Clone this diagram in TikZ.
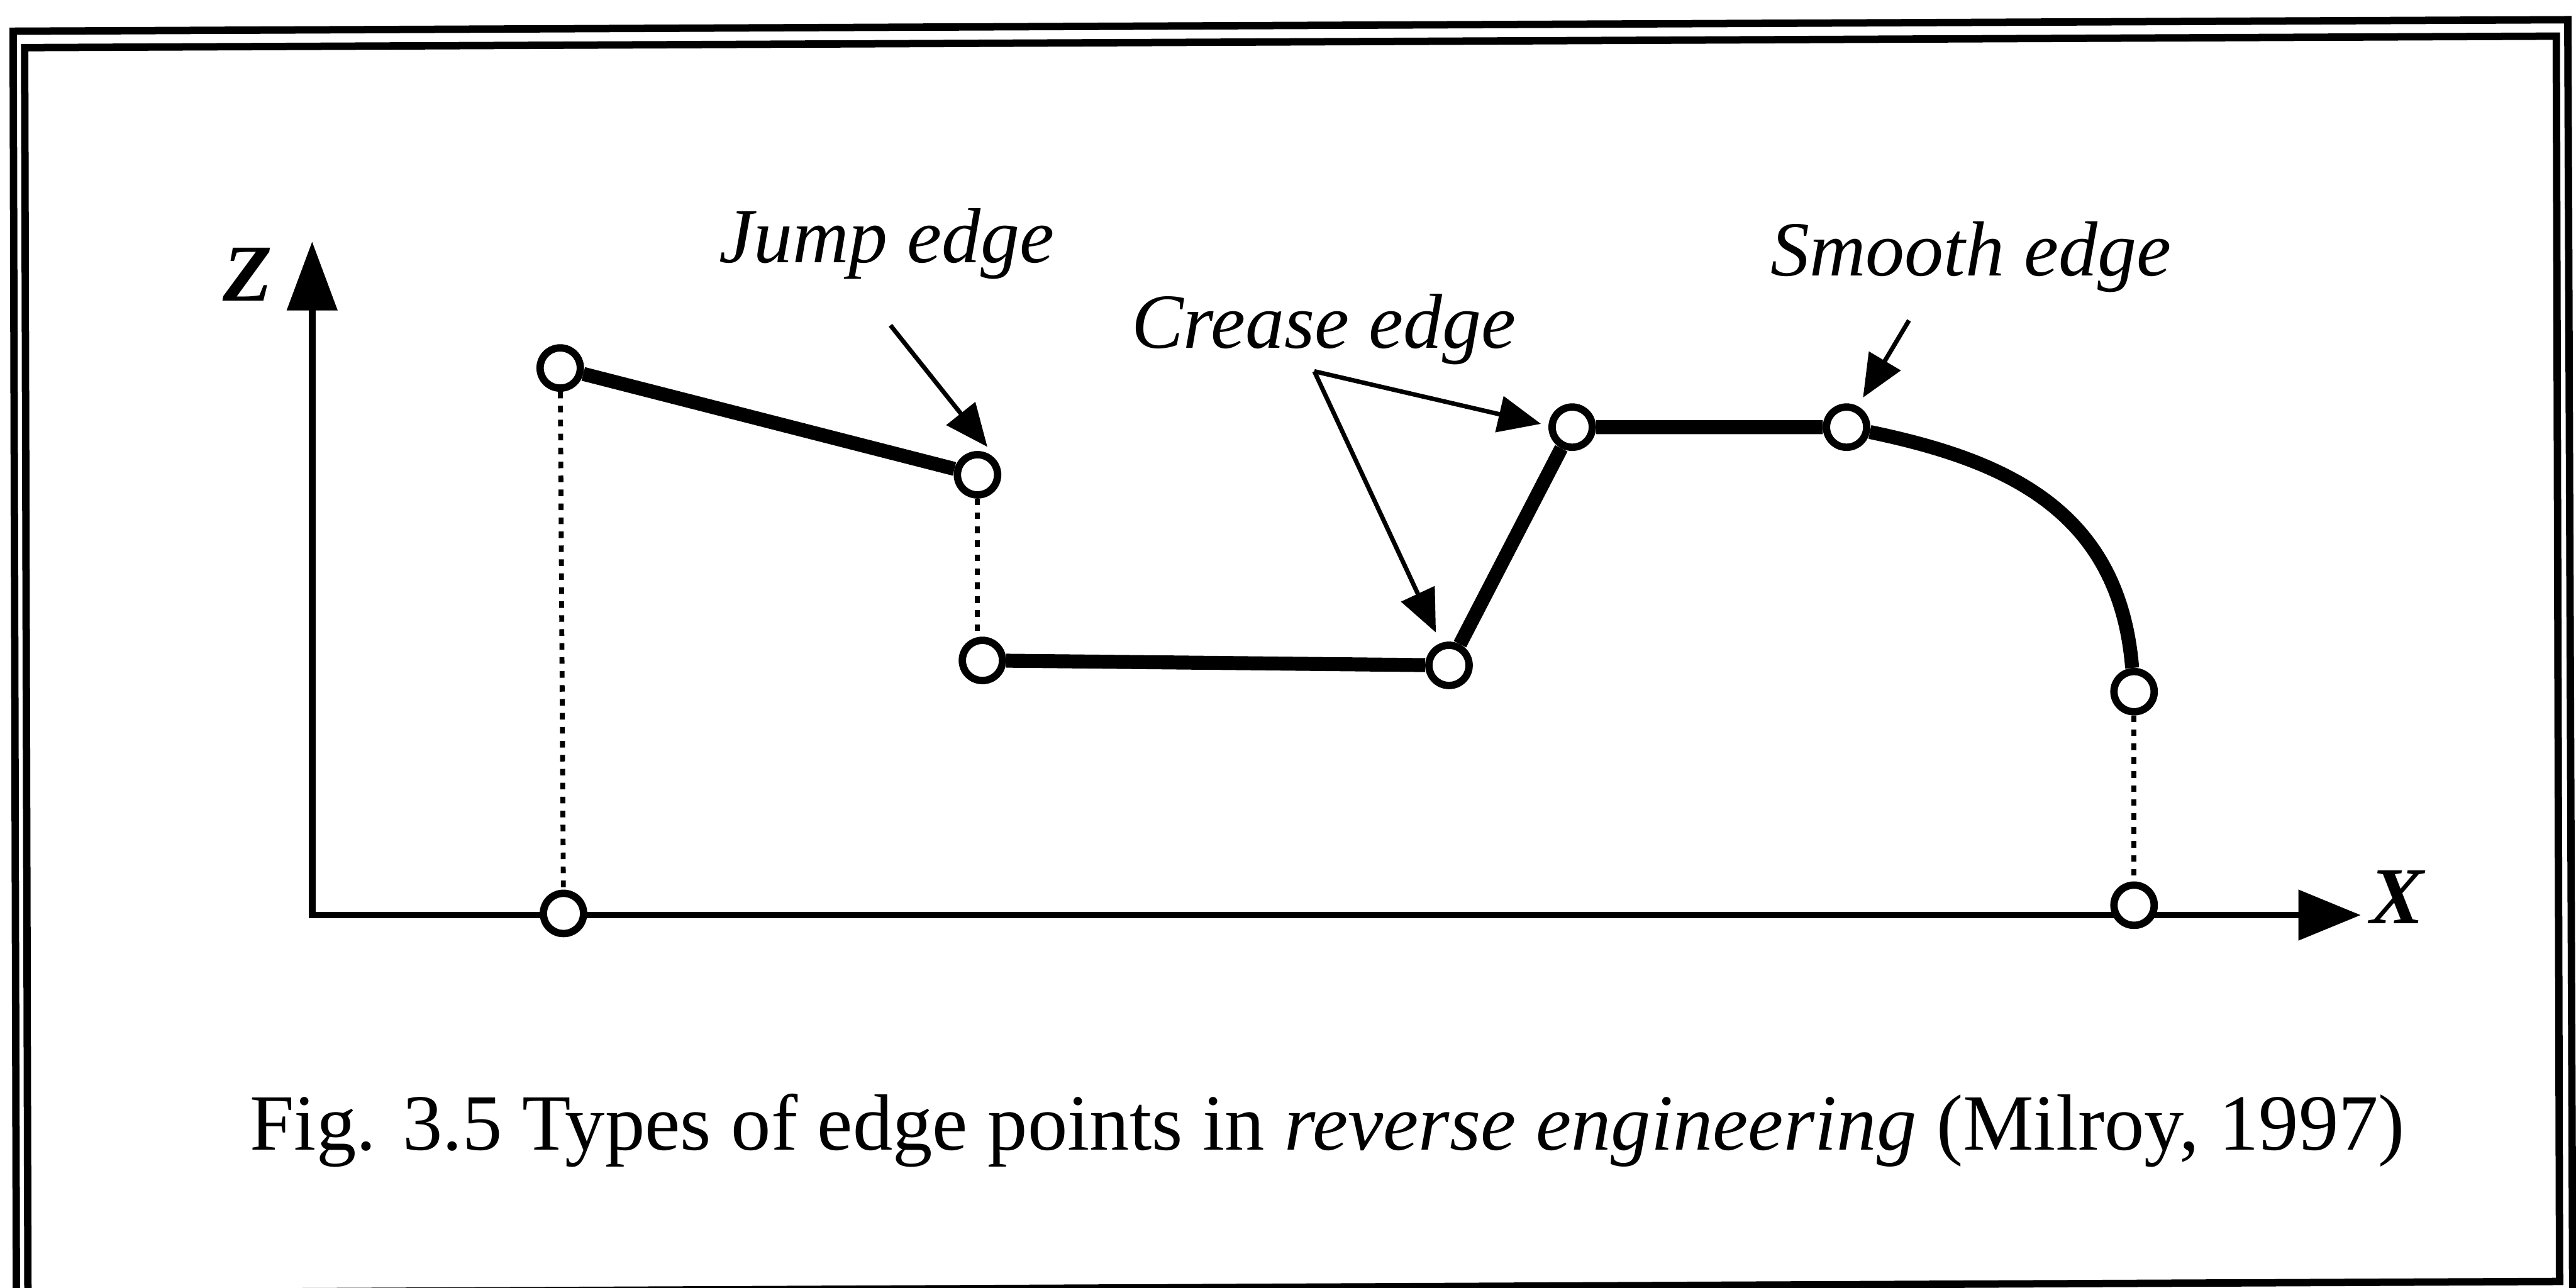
\documentclass[tikz,border=0pt]{standalone}
\usepackage{fontspec}
\setmainfont{Liberation Serif}
\usetikzlibrary{arrows.meta}
\begin{document}
\begin{tikzpicture}[x=0.1mm,y=-0.1mm,
  frame/.style={line width=0.45mm,line join=miter},
  axis/.style={line width=0.4mm},
  prof/.style={line width=0.85mm},
  pt/.style={circle,draw,line width=0.45mm,fill=white,minimum size=2.45mm,inner sep=0pt},
  drop/.style={line width=0.3mm,dash pattern=on 0.4mm off 0.45mm},
  ann/.style={line width=0.27mm,-{Triangle[length=2.6mm,width=2.2mm]}},
  lbl/.style={font=\fontsize{13.5}{16}\selectfont\itshape,inner sep=0pt,anchor=base west},
  axlbl/.style={font=\fontsize{14}{17}\selectfont\bfseries\itshape,inner sep=0pt,anchor=base west},
]
\useasboundingbox (0,0) rectangle (1568,784);
\clip (0,0) rectangle (1568,784);
\fill[white] (0,0) rectangle (1568,784);

% double frame
\draw[frame] (8,19) -- (1563,12) -- (1566,790) -- (10,797) -- cycle;
\draw[frame] (15,29) -- (1556,22) -- (1558,780) -- (17,787) -- cycle;

% axes
\coordinate (O) at (190,557);
\coordinate (ztip) at (190,147);
\coordinate (xtip) at (1437,557);
\draw[axis,{Triangle[length=4.2mm,width=3mm]}-{Triangle[length=3.8mm,width=3mm]}] (ztip) -- (O) -- (xtip);
\node[axlbl] (zl) at (135,183) {Z};
\node[axlbl] (xl) at (1442,562) {X};

% profile points
\node[pt] (P1) at (341,224) {};
\node[pt] (P2) at (595,289) {};
\node[pt] (P3) at (598,402) {};
\node[pt] (P4) at (882,405) {};
\node[pt] (P5) at (957,260) {};
\node[pt] (P6) at (1124,260) {};
\node[pt] (P7) at (1299,421) {};
\node[pt] (B1) at (343,556) {};
\node[pt] (B2) at (1299,551) {};

% profile
\draw[prof] (P1) -- (P2);
\draw[prof] (P3) -- (P4) -- (P5) -- (P6);
\draw[prof] (P6) .. controls (1220,280) and (1290,310) .. (P7);

% drop lines
\draw[drop] (P1) -- (B1);
\draw[drop] (P2.south) -- (P2.south |- P3.north);
\draw[drop] (P7) -- (B2);

% labels
\node[lbl] (jl) at (437,160) {Jump edge};
\node[lbl] (cl) at (688,212) {Crease edge};
\node[lbl] (sl) at (1077,168) {Smooth edge};

\coordinate (js) at (542,198);
\coordinate (jt) at (601,272);
\coordinate (cs) at (800,226);
\coordinate (ct1) at (938,258);
\coordinate (ct2) at (874,385);
\coordinate (ss) at (1162,195);
\coordinate (st) at (1134,242);
\draw[ann] (js) -- (jt);
\draw[ann] (cs) -- (ct1);
\draw[ann] (cs) -- (ct2);
\draw[ann] (ss) -- (st);

% caption
\node[font=\fontsize{13.8}{17}\selectfont,inner sep=0pt,anchor=base] (cap) at (808,700)
  {Fig. 3.5 Types of edge points in \textit{reverse engineering} (Milroy, 1997)};
\end{tikzpicture}
\end{document}
